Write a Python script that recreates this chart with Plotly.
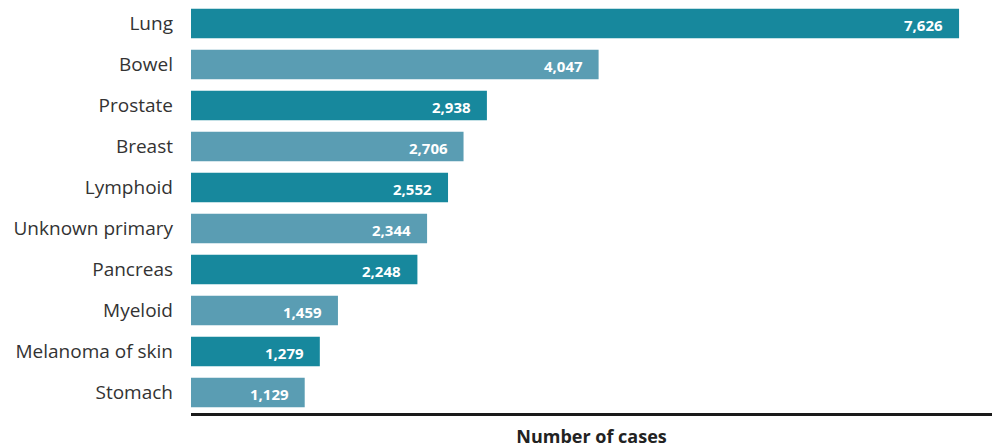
import plotly.graph_objects as go

cancers = ["Lung", "Bowel", "Prostate", "Breast", "Lymphoid", "Unknown primary",
           "Pancreas", "Myeloid", "Melanoma of skin", "Stomach"]
cases = [7626, 4047, 2938, 2706, 2552, 2344, 2248, 1459, 1279, 1129]

DARK = "#17889d"
LIGHT = "#5a9db3"
colors = [DARK if i % 2 == 0 else LIGHT for i in range(len(cancers))]

fig = go.Figure(go.Bar(
    x=cases,
    y=cancers,
    orientation="h",
    marker=dict(color=colors, line=dict(width=0)),
    width=0.72,
    hoverinfo="x+y",
))

# value labels sitting just inside the end of each bar
for name, val in zip(cancers, cases):
    fig.add_annotation(
        x=val, y=name, text=f"<b>{val:,}</b>", showarrow=False,
        xanchor="right", xshift=-14, yshift=-1,
        font=dict(family="Open Sans", size=15, color="white"),
    )

fig.update_layout(
    width=992, height=448,
    margin=dict(l=191, r=0, t=3, b=35),
    paper_bgcolor="white", plot_bgcolor="white",
    showlegend=False,
    font=dict(family="Open Sans", color="#333333"),
    xaxis=dict(
        range=[0, 7953], showgrid=False, zeroline=False,
        showticklabels=False, ticks="",
        showline=True, linecolor="#1a1a1a", linewidth=2.5,
        title=dict(text="<b>Number of cases</b>", standoff=16,
                   font=dict(family="Open Sans", size=18, color="#222222")),
    ),
    yaxis=dict(
        categoryorder="array", categoryarray=cancers,
        autorange=False, range=[9.5, -0.5],
        showgrid=False, zeroline=False, showline=False, ticks="",
        ticklabelstandoff=17,
        tickfont=dict(family="Open Sans", size=19, color="#333333"),
    ),
)

fig.write_html("out.html")
